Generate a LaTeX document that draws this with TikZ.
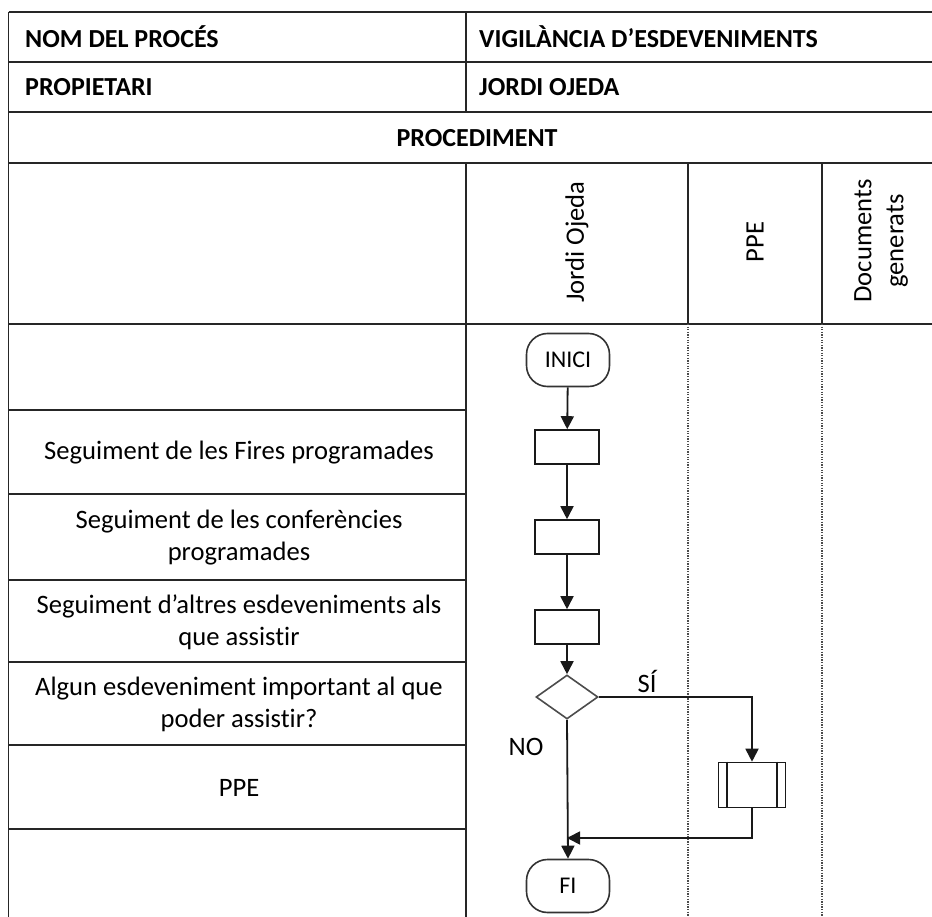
\documentclass[tikz,border=0pt]{standalone}
\usepackage{fontspec}
\setmainfont{Carlito}[Ligatures=NoCommon]
\usetikzlibrary{shapes.geometric,arrows.meta}
\begin{document}
\begin{tikzpicture}[x=1pt,y=-1pt,
  rule/.style={line width=1.8pt, draw=black!85},
  lane/.style={line width=1.3pt, draw=black!70, dash pattern=on 1.3pt off 1.3pt},
  txt/.style={font=\fontsize{26.6}{32}\selectfont, align=center, inner sep=0pt},
  head/.style={font=\fontsize{26}{32}\selectfont\bfseries, inner sep=0pt},
  term/.style={draw=black!80, line width=1.6pt, rounded corners=21pt, minimum width=83pt, minimum height=53pt, inner sep=0pt, font=\fontsize{24}{28}\selectfont},
  proc/.style={draw=black!90, line width=1.6pt, minimum width=64pt, minimum height=34pt, inner sep=0pt},
  dec/.style={draw=black!70, line width=1.6pt, diamond, minimum width=62pt, minimum height=44pt, inner sep=0pt},
  subproc/.style={draw=black!90, line width=1.6pt, minimum width=67pt, minimum height=45pt, inner sep=0pt},
  flow/.style={line width=1.8pt, draw=black!90, -{Triangle[width=13pt,length=13pt]}},
  link/.style={line width=1.8pt, draw=black!90}
]
% page and its margins
\fill[white] (0,0) rectangle (932,917);
\useasboundingbox (0,0) rectangle (932,917);

% table rules
\draw[rule] (8.5,12) -- (932,12);
\draw[rule] (8.5,62) -- (932,62);
\draw[rule] (8.5,112) -- (932,112);
\draw[rule] (8.5,163) -- (932,163);
\draw[rule] (8.5,324) -- (932,324);
\draw[rule] (8.5,12) -- (8.5,917);
\draw[rule] (466,12) -- (466,112);
\draw[rule] (466,163) -- (466,917);
\draw[rule] (688,163) -- (688,324);
\draw[rule] (822,163) -- (822,324);
\foreach \yy in {410,494,580,662,745,829}
  \draw[rule] (8.5,\yy) -- (466,\yy);

% swimlane separators
\draw[lane] (688,324) -- (688,917);
\draw[lane] (822,324) -- (822,917);

% header texts
\node[head, anchor=west] (nomL) at (25,37) {NOM DEL PROCÉS};
\node[head, anchor=west] (nomR) at (479,37) {VIGILÀNCIA D’ESDEVENIMENTS};
\node[head, anchor=west] (propL) at (25,87) {PROPIETARI};
\node[head, anchor=west] (propR) at (479,87) {JORDI OJEDA};
\node[head] (proc) at (477,138) {PROCEDIMENT};

% lane titles
\node[txt, rotate=90] (laneJO) at (577,242) {Jordi Ojeda};
\node[txt, rotate=90] (lanePPE) at (755,242) {PPE};
\node[txt, rotate=90] (laneDoc) at (881,241) {Documents\\generats};

% step descriptions
\node[txt] (d1) at (239,453) {Seguiment de les Fires programades};
\node[txt] (d2) at (239,538) {Seguiment de les conferències\\programades};
\node[txt] (d3) at (239,622) {Seguiment d’altres esdeveniments als\\que assistir};
\node[txt] (d4) at (239,704) {Algun esdeveniment important al que\\poder assistir?};
\node[txt] (d5) at (239,788) {PPE};

% flowchart
\node[term] (inici) at (568,360) {INICI};
\node[proc] (p1) at (567,447) {};
\node[proc] (p2) at (567,537) {};
\node[proc] (p3) at (567,627) {};
\node[dec] (q) at (567,697) {};
\node[subproc] (sub) at (752,785) {};
\draw[link] ([xshift=9pt]sub.north west) -- ([xshift=9pt]sub.south west);
\draw[link] ([xshift=-9pt]sub.north east) -- ([xshift=-9pt]sub.south east);
\node[term] (fi) at (568,886) {FI};
\coordinate (join) at (567,838);

\draw[flow] (inici) -- (p1);
\draw[flow] (p1) -- (p2);
\draw[flow] (p2) -- (p3);
\draw[flow] (p3) -- (q);
\draw[flow] (q.east) -| (sub.north);
\draw[flow] (sub.south) |- (join);
\draw[flow] (q.south) -- (fi.north);

\node[txt] (si) at (647,681) {SÍ};
\node[txt] (no) at (526,747) {NO};
\end{tikzpicture}
\end{document}
